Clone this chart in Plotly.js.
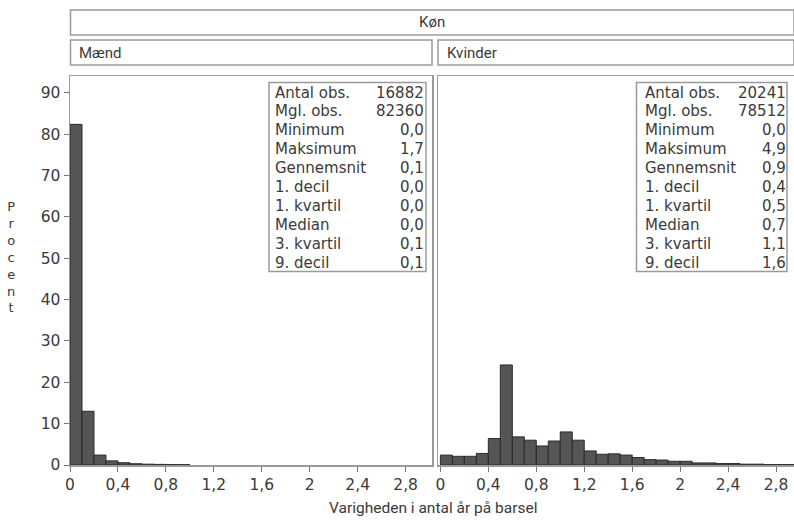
<!DOCTYPE html>
<html>
<head>
<meta charset="utf-8">
<script src="https://cdn.plot.ly/plotly-3.0.1.min.js"></script>
<style>html,body{margin:0;padding:0;background:#fff;}#chart{width:794px;height:521px;}</style>
</head>
<body>
<div id="chart"></div>
<script>
// ---- data ----
const binWidth = 0.1;
const menBinStart = [0,0.1,0.2,0.3,0.4,0.5,0.6,0.7,0.8,0.9];
const menPct = [82.4,13.0,2.4,1.0,0.55,0.3,0.2,0.15,0.1,0.08];
const womenBinStart = [0,0.1,0.2,0.3,0.4,0.5,0.6,0.7,0.8,0.9,1.0,1.1,1.2,1.3,1.4,1.5,1.6,1.7,1.8,1.9,2.0,2.1,2.2,2.3,2.4,2.5,2.6,2.7,2.8,2.9,3.0,3.2,3.4,3.6,3.8,4.0,4.4,4.8];
const womenPct = [2.4,2.1,2.1,2.8,6.4,24.2,6.8,6.0,4.6,5.8,8.0,6.0,3.4,2.6,2.7,2.4,1.8,1.3,1.2,0.9,0.9,0.5,0.5,0.35,0.35,0.2,0.2,0.1,0.1,0.1,0.1,0.1,0.1,0.05,0.05,0.05,0.03,0.02];
const xTickVals = [0,0.4,0.8,1.2,1.6,2,2.4,2.8];
const xTickText = ['0','0,4','0,8','1,2','1,6','2','2,4','2,8'];
const yTickVals = [0,10,20,30,40,50,60,70,80,90];
const statLabels = ['Antal obs.','Mgl. obs.','Minimum','Maksimum','Gennemsnit','1. decil','1. kvartil','Median','3. kvartil','9. decil'];
const menStats = ['16882','82360','0,0','1,7','0,1','0,0','0,0','0,0','0,1','0,1'];
const womenStats = ['20241','78512','0,0','4,9','0,9','0,4','0,5','0,7','1,1','1,6'];
const panelTitles = ['Mænd','Kvinder'];
const stripTitle = 'Køn';
const yTitle = 'Procent';
const xTitle = 'Varigheden i antal år på barsel';

// ---- layout helpers (pixel -> paper) ----
const L = 70, T = 76, W = 724, H = 389;
const px = p => (p - L) / W;
const py = p => (T + H - p) / H;
const FONT = 'Roboto, "DejaVu Sans", sans-serif';
const NUMFONT = '"DejaVu Sans", sans-serif';
const TXT = '#3a3a3a';
const GRID = '#9a9a9a';

const barStyle = {color:'#555555', line:{color:'#2a2a2a', width:1}};
const traces = [
  {type:'bar', x:menBinStart, y:menPct, offset:0, width:binWidth, marker:barStyle, xaxis:'x', yaxis:'y', hoverinfo:'x+y'},
  {type:'bar', x:womenBinStart, y:womenPct, offset:0, width:binWidth, marker:barStyle, xaxis:'x2', yaxis:'y2', hoverinfo:'x+y'}
];

const axCommon = {
  showgrid:false, zeroline:false, showline:true, linecolor:GRID, linewidth:1.5, mirror:true,
  ticks:'outside', ticklen:5, tickcolor:'#777', tickwidth:1,
  tickfont:{family:NUMFONT, size:15.5, color:TXT}
};

const shapes = [];
const annotations = [];
function box(x0,y0,x1,y1){
  shapes.push({type:'rect', xref:'paper', yref:'paper', x0:px(x0), x1:px(x1), y0:py(y1), y1:py(y0),
    line:{color:GRID, width:1.5}, fillcolor:'rgba(0,0,0,0)'});
}
// strips
box(70.5,10,794,35);
box(70.5,40,432,65);
box(438,40,794,65);
annotations.push({xref:'paper', yref:'paper', x:px(432), y:py(22.5), text:stripTitle, showarrow:false,
  xanchor:'center', yanchor:'middle', font:{family:FONT, size:15, color:TXT}});
annotations.push({xref:'paper', yref:'paper', x:px(77), y:py(52.5), text:panelTitles[0], showarrow:false,
  xanchor:'left', yanchor:'middle', font:{family:FONT, size:15, color:TXT}});
annotations.push({xref:'paper', yref:'paper', x:px(445), y:py(52.5), text:panelTitles[1], showarrow:false,
  xanchor:'left', yanchor:'middle', font:{family:FONT, size:15, color:TXT}});

// stats boxes (one annotation per line)
const LINE0 = 92.5, LINESTEP = 18.9;
function statsBox(x0,x1,labX,valX,vals){
  box(x0,82.5,x1,271.5);
  statLabels.forEach((lab,i)=>{
    annotations.push({xref:'paper', yref:'paper', x:px(labX), y:py(LINE0 + i*LINESTEP), text:lab,
      showarrow:false, xanchor:'left', yanchor:'middle', borderpad:0, font:{family:NUMFONT, size:15, color:TXT}});
    annotations.push({xref:'paper', yref:'paper', x:px(valX), y:py(LINE0 + i*LINESTEP), text:vals[i],
      showarrow:false, xanchor:'right', yanchor:'middle', borderpad:0, font:{family:NUMFONT, size:15, color:TXT}});
  });
}
statsBox(269,426,274,425,menStats);
statsBox(636.5,787,644,787,womenStats);

// y title stacked letters
annotations.push({xref:'paper', yref:'paper', x:px(11), y:py(257), text:yTitle.split('').join('<br>'), showarrow:false,
  xanchor:'center', yanchor:'middle', align:'center', font:{family:NUMFONT, size:13, color:TXT}});
// x title
annotations.push({xref:'paper', yref:'paper', x:px(433), y:py(508), text:xTitle, showarrow:false,
  xanchor:'center', yanchor:'middle', font:{family:FONT, size:15.5, color:TXT}});

const layout = {
  width:794, height:521,
  margin:{l:L, r:794-L-W, t:T, b:521-T-H, pad:0},
  paper_bgcolor:'#fff', plot_bgcolor:'#fff',
  showlegend:false, bargap:0,
  xaxis:Object.assign({}, axCommon, {domain:[0, px(432)], range:[0, 3.02], tickvals:xTickVals, ticktext:xTickText, anchor:'y'}),
  xaxis2:Object.assign({}, axCommon, {domain:[px(438), 1], range:[-0.02, 2.95], tickvals:xTickVals, ticktext:xTickText, anchor:'y2'}),
  yaxis:Object.assign({}, axCommon, {domain:[0,1], range:[0, 94.1], tickvals:yTickVals, anchor:'x'}),
  yaxis2:Object.assign({}, axCommon, {domain:[0,1], range:[0, 94.1], showticklabels:false, ticks:'', anchor:'x2', matches:'y'}),
  shapes:shapes,
  annotations:annotations
};

Plotly.newPlot('chart', traces, layout, {displayModeBar:false, staticPlot:true});
</script>
</body>
</html>
